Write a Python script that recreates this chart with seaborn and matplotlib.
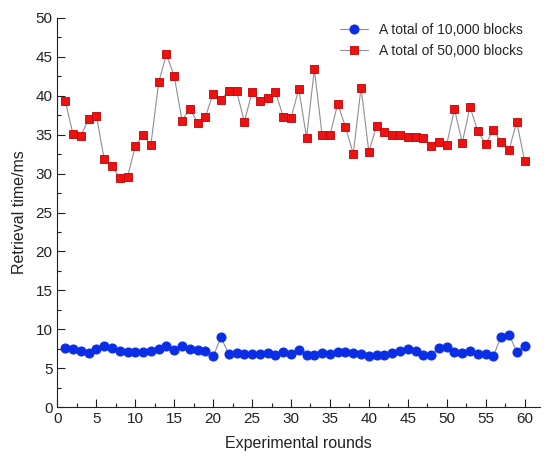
import seaborn as sns
import matplotlib.pyplot as plt
from matplotlib.ticker import MultipleLocator
import pandas as pd


rounds = list(range(1, 61))

blocks_10k = [7.56, 7.48, 7.26, 7.01, 7.52, 7.91, 7.65, 7.22, 7.05, 7.14,
              7.14, 7.18, 7.48, 7.86, 7.39, 7.82, 7.52, 7.39, 7.22, 6.50,
              8.97, 6.84, 6.92, 6.84, 6.84, 6.84, 6.97, 6.67, 7.14, 6.88,
              7.30, 6.75, 6.75, 6.97, 6.84, 7.05, 7.05, 6.92, 6.88, 6.62,
              6.75, 6.67, 7.01, 7.22, 7.48, 7.18, 6.75, 6.67, 7.65, 7.78,
              7.05, 6.97, 7.22, 6.88, 6.88, 6.58, 9.06, 9.32, 7.14, 7.82]

blocks_50k = [39.3, 35.06, 34.85, 36.99, 37.46, 31.89, 31.03, 29.4, 29.58, 33.52,
              34.97, 33.69, 41.74, 45.34, 42.51, 36.82, 38.36, 36.56, 37.29, 40.29,
              39.47, 40.67, 40.67, 36.65, 40.46, 39.39, 39.73, 40.46, 37.33, 37.12,
              40.9, 34.63, 43.41, 34.93, 34.93, 38.96, 36.0, 32.53, 41.06, 32.79,
              36.17, 35.36, 34.93, 34.93, 34.76, 34.72, 34.55, 33.52, 34.07, 33.73,
              38.27, 33.99, 38.57, 35.45, 33.82, 35.62, 34.03, 33.0, 36.65, 31.68]

labels = ['A total of 10,000 blocks', 'A total of 50,000 blocks']

df = pd.DataFrame({'round': rounds, 'b10': blocks_10k, 'b50': blocks_50k})

sns.set_style('ticks')
plt.rcParams['font.family'] = ['Liberation Sans', 'DejaVu Sans']

fig = plt.figure(figsize=(5.5, 4.61), dpi=100)
ax = fig.add_axes([0.1045, 0.117, 0.8775, 0.844])

sns.lineplot(data=df, x='round', y='b10', ax=ax, color='#909090', linewidth=0.8,
             marker='o', markersize=6.5, markerfacecolor='#0a2ee6',
             markeredgecolor='#0a2ee6', label=labels[0])
sns.lineplot(data=df, x='round', y='b50', ax=ax, color='#909090', linewidth=0.8,
             marker='s', markersize=6, markerfacecolor='#ee1111',
             markeredgecolor='#c00000', markeredgewidth=0.6, label=labels[1])

ax.set_xlim(0, 62)
ax.set_ylim(0, 50)
ax.xaxis.set_minor_locator(MultipleLocator(2.5))
ax.yaxis.set_major_locator(MultipleLocator(5))
ax.yaxis.set_minor_locator(MultipleLocator(2.5))
ax.set_xticks(range(0, 61, 5))
ax.tick_params(which='major', direction='in', length=6, width=0.8, labelsize=11, colors='#222222')
ax.tick_params(which='minor', direction='in', length=3, width=0.8, colors='#222222')
for s in ['top', 'right']:
    ax.spines[s].set_visible(False)
for s in ['left', 'bottom']:
    ax.spines[s].set_color('#222222')
    ax.spines[s].set_linewidth(0.8)

ax.set_xlabel('Experimental rounds', fontsize=11.5, color='#222222', labelpad=7)
ax.set_ylabel('Retrieval time/ms', fontsize=11.5, color='#222222', labelpad=6)

ax.legend(loc='upper right', frameon=False, fontsize=10, handlelength=2.0,
          borderaxespad=0.3, bbox_to_anchor=(0.985, 1.012))

fig.savefig('out.png', dpi=100)
